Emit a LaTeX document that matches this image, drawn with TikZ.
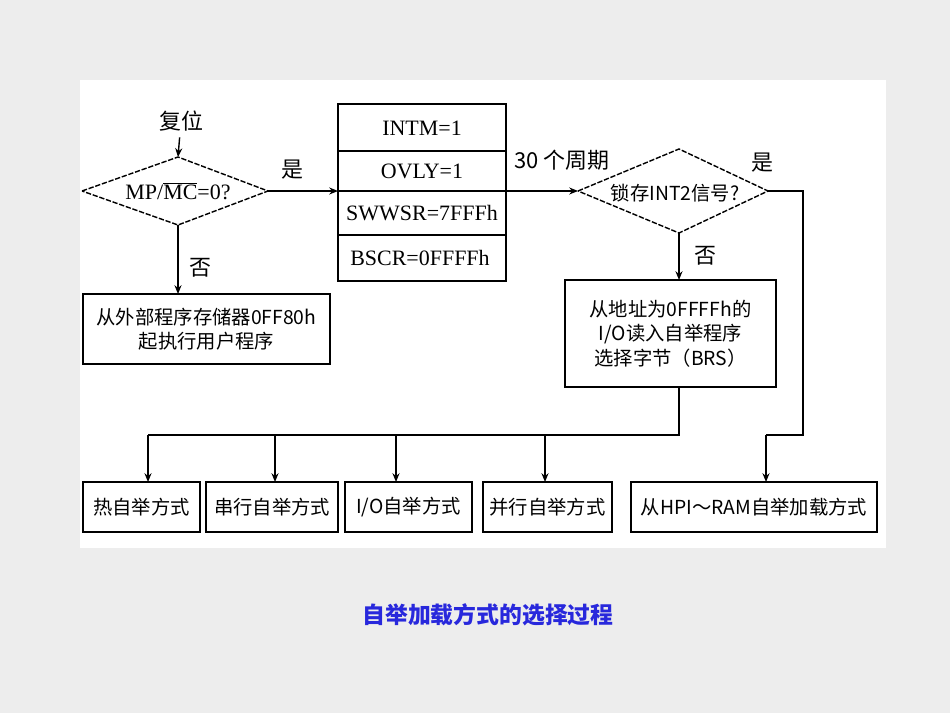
\documentclass[tikz,border=0pt]{standalone}
\usepackage{fontspec}
\setmainfont{Liberation Serif}
\newfontfamily\cjk{Noto Sans CJK SC}
\usetikzlibrary{arrows.meta}
\begin{document}
\begin{tikzpicture}[x=0.02cm,y=-0.02cm,
  box/.style={draw,thick,inner sep=0pt},
  lbl/.style={font=\cjk\fontsize{12.5}{15}\selectfont},
  blbl/.style={font=\cjk\fontsize{11}{14}\selectfont},
  txt/.style={font=\fontsize{12.5}{15}\selectfont},
  arr/.style={thick,-{Stealth[length=5pt,width=4pt]}},
  ln/.style={thick}]
\useasboundingbox (0,0) rectangle (950,713);
\fill[black!7] (0,0) rectangle (950,713);
\fill[white] (80,80) rectangle (886,548);
% reset
\node[lbl] (reset) at (181,121) {复位};
\coordinate (d1t) at (178,157);
\coordinate (d1r) at (268,191);
\coordinate (d1b) at (178,225);
\coordinate (d1l) at (82,191);
\draw[thick,dashed,dash pattern=on 3pt off 1pt] (d1l) -- (d1t) -- (d1r) -- (d1b) -- cycle;
\node[txt] (d1) at (178,191) {MP/$\overline{\mbox{MC}}$=0?};
\draw[arr] (reset) -- (d1t);
% register box
\node[box,minimum width=168*0.02cm,minimum height=177*0.02cm] (reg) at (422,192.5) {};
\draw[ln] (338,151) -- (506,151);
\draw[ln] (338,191) -- (506,191);
\draw[ln] (338,235) -- (506,235);
\node[txt] (r1) at (422,128) {INTM=1};
\node[txt] (r2) at (422,171) {OVLY=1};
\node[txt] (r3) at (422,213) {SWWSR=7FFFh};
\node[txt] (r4) at (420,258) {BSCR=0FFFFh};
\coordinate (regl) at (338,191);
\coordinate (regr) at (506,191);
\draw[arr] (d1r) -- (regl);
\node[lbl] (yes1) at (292,170) {是};
% box1
\node[box,minimum width=247*0.02cm,minimum height=70*0.02cm,blbl,align=center] (b1) at (206.5,329) {从外部程序存储器0FF80h\\起执行用户程序};
\coordinate (b1t) at (178,294);
\draw[arr] (d1b) -- (b1t);
\node[lbl] (no1) at (200,268) {否};
% diamond2
\coordinate (d2t) at (679,149);
\coordinate (d2r) at (768,191);
\coordinate (d2b) at (679,233);
\coordinate (d2l) at (578,191);
\draw[thick,dashed,dash pattern=on 3pt off 1pt] (d2l) -- (d2t) -- (d2r) -- (d2b) -- cycle;
\node[blbl] (d2) at (675,193) {锁存INT2信号?};
\draw[arr] (regr) -- (d2l);
\node[lbl] (cyc) at (562,160) {30 个周期};
\node[lbl] (yes2) at (762,163) {是};
% box2
\node[box,minimum width=211*0.02cm,minimum height=107*0.02cm,blbl,align=center] (b2) at (670.5,333.5) {从地址为0FFFFh的\\I/O读入自举程序\\选择字节（BRS）};
\coordinate (b2t) at (679,280);
\coordinate (b2b) at (679,387);
\draw[arr] (d2b) -- (b2t);
\node[lbl] (no2) at (705,256) {否};
% bottom boxes
\node[box,minimum width=117*0.02cm,minimum height=50*0.02cm,blbl] (c1) at (141.5,507) {热自举方式};
\node[box,minimum width=132*0.02cm,minimum height=50*0.02cm,blbl] (c2) at (272,507) {串行自举方式};
\node[box,minimum width=127*0.02cm,minimum height=50*0.02cm,blbl] (c3) at (408.5,507) {I/O自举方式};
\node[box,minimum width=129*0.02cm,minimum height=50*0.02cm,blbl] (c4) at (547.5,507) {并行自举方式};
\node[box,minimum width=246*0.02cm,minimum height=50*0.02cm,blbl] (c5) at (754,507) {从HPI～RAM自举加载方式};
\coordinate (j) at (679,435);
\coordinate (jl) at (148,435);
\draw[ln] (b2b) -- (j) -- (jl);
\draw[arr] (jl) -- (148,482);
\draw[arr] (275,435) -- (275,482);
\draw[arr] (396,435) -- (396,482);
\draw[arr] (545,435) -- (545,482);
\draw[ln] (d2r) -- (803,191) -- (803,435) -- (766,435);
\draw[arr] (766,435) -- (766,482);
% caption
\node[font=\cjk\bfseries\fontsize{13}{15}\selectfont,text={rgb,255:red,40;green,40;blue,220}] (cap) at (488,615) {自举加载方式的选择过程};
\end{tikzpicture}
\end{document}
